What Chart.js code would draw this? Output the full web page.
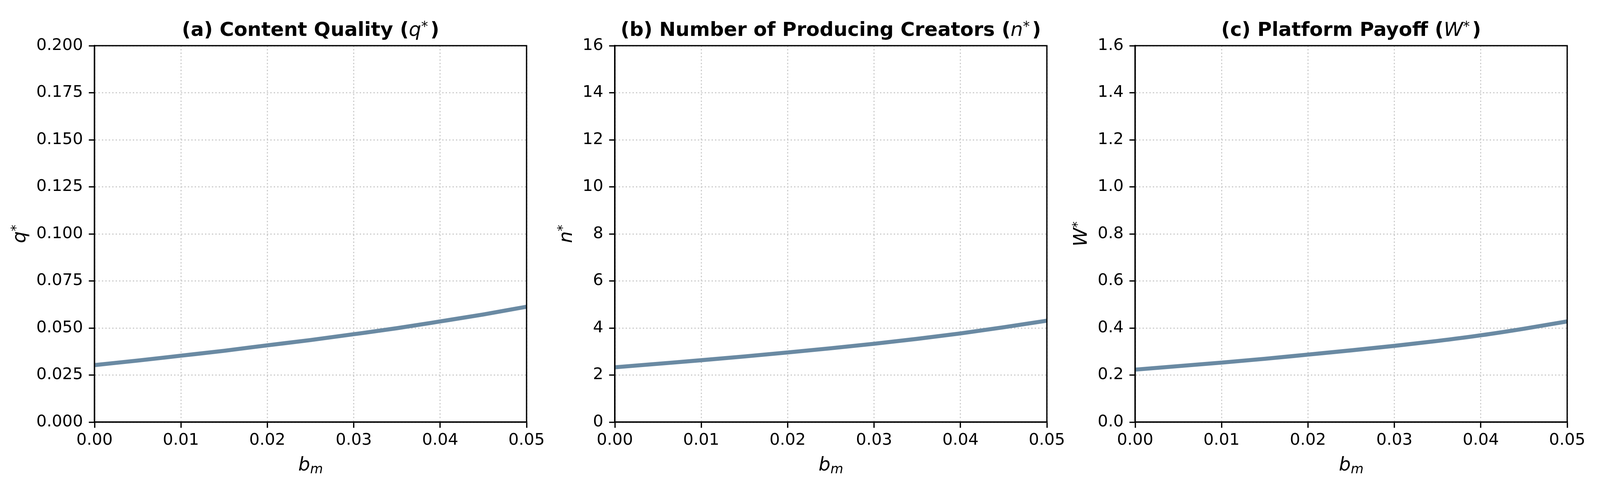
<!DOCTYPE html>
<html>
<head>
<meta charset="utf-8">
<script src="https://cdn.jsdelivr.net/npm/chart.js@4.4.1/dist/chart.umd.min.js"></script>
<style>
  html, body { margin: 0; padding: 0; background: #fff; overflow: hidden; }
  #wrap { position: relative; background: #fff; overflow: hidden; }
  #wrap canvas { position: absolute; top: 0; }
</style>
</head>
<body>
<div id="wrap">
  <canvas id="chartA"></canvas>
  <canvas id="chartB"></canvas>
  <canvas id="chartC"></canvas>
</div>
<script>
// ===== data =====
const bm       = [0, 0.005, 0.01, 0.015, 0.02, 0.025, 0.03, 0.035, 0.04, 0.045, 0.05];
const quality  = [0.0303, 0.0327, 0.0353, 0.0379, 0.0408, 0.0436, 0.0467, 0.0499, 0.0535, 0.0572, 0.0613];
const creators = [2.33, 2.48, 2.63, 2.79, 2.96, 3.14, 3.33, 3.54, 3.77, 4.03, 4.31];
const payoff   = [0.223, 0.238, 0.253, 0.269, 0.287, 0.305, 0.324, 0.345, 0.369, 0.397, 0.428];

const xTicks = [0, 0.01, 0.02, 0.03, 0.04, 0.05];
const qTicks = [0, 0.025, 0.05, 0.075, 0.1, 0.125, 0.15, 0.175, 0.2];
const nTicks = [0, 2, 4, 6, 8, 10, 12, 14, 16];
const wTicks = [0, 0.2, 0.4, 0.6, 0.8, 1.0, 1.2, 1.4, 1.6];

// ===== layout (designed for 4500x1260, stretched to the real viewport) =====
const VW = window.innerWidth || 4500;
const VH = window.innerHeight || 1260;
const sx = VW / 4500, sy = VH / 1260;
const AXIS_LEFT = [266, 1729, 3193];
const PLOT_W = 1215, PLOT_TOP = 117, PLOT_BOTTOM = 1081, XLABEL_Y = 1205;
const RIGHT_PAD = 79;

// ===== look =====
const FONT = '"DejaVu Sans", sans-serif';
const LINE = '#6a8aa3';
const TICK_PX = 41.7;
const SPINE = 3.3;

const wrap = document.getElementById('wrap');
wrap.style.width = VW + 'px';
wrap.style.height = VH + 'px';

// draw text made of bold / italic / sub / sup pieces, centred on x
function drawRich(ctx, segs, x, y, base) {
  let total = 0;
  const parts = segs.map(s => {
    const size = base * (s.scale || 1);
    const font = (s.style || '') + ' ' + size + 'px ' + FONT;
    ctx.font = font;
    const w = ctx.measureText(s.t).width;
    total += w + (s.gap || 0) * base;
    return { s, font, w };
  });
  let cx = x - total / 2;
  ctx.textAlign = 'left';
  ctx.textBaseline = 'alphabetic';
  parts.forEach(p => {
    ctx.font = p.font;
    ctx.fillText(p.s.t, cx, y + (p.s.dy || 0) * base);
    cx += p.w + (p.s.gap || 0) * base;
  });
}

// frame + title + axis labels
const panelText = {
  id: 'panelText',
  afterDraw(chart, args, opts) {
    const { ctx, chartArea: a } = chart;
    ctx.save();
    ctx.strokeStyle = '#000';
    ctx.lineWidth = SPINE;
    ctx.strokeRect(a.left, a.top, a.right - a.left, a.bottom - a.top);

    ctx.fillStyle = '#000';
    const cx = (a.left + a.right) / 2;
    drawRich(ctx, opts.title, cx, a.top - 25, 50);
    drawRich(ctx, opts.xlabel, cx, XLABEL_Y * sy, 48);

    // y label sits left of the widest tick label
    const ys = chart.scales.y;
    ctx.font = TICK_PX + 'px ' + FONT;
    const lw = Math.max(...ys.ticks.map(t => ctx.measureText(String(t.label)).width));
    const bx = a.left - 14.6 - 15 - lw - 16.7 - 11;
    ctx.translate(bx, (a.top + a.bottom) / 2);
    ctx.rotate(-Math.PI / 2);
    drawRich(ctx, opts.ylabel, 0, 0, 48);
    ctx.restore();
  }
};

function axisStyle() {
  return {
    grid: { color: '#cbcbcb', lineWidth: 3, tickColor: '#000', tickWidth: SPINE, tickLength: 14.6, drawTicks: true },
    border: { display: true, color: '#000', width: SPINE, dash: [3.3, 5.5] }
  };
}

function makeChart(id, idx, values, yTicks, yMax, yFmt, labels) {
  const canvas = document.getElementById(id);
  const yw = Math.round(AXIS_LEFT[0] * sx);
  const left = Math.round(AXIS_LEFT[idx] * sx) - yw;
  const cw = Math.round(yw + PLOT_W * sx + RIGHT_PAD);
  canvas.width = cw; canvas.height = VH;
  canvas.style.width = cw + 'px'; canvas.style.height = VH + 'px';
  canvas.style.left = left + 'px';

  const xs = axisStyle();
  const ysx = axisStyle();
  return new Chart(canvas, {
    type: 'line',
    data: {
      datasets: [{
        data: bm.map((x, i) => ({ x, y: values[i] })),
        borderColor: LINE,
        borderWidth: 10.4,
        pointRadius: 0,
        cubicInterpolationMode: 'monotone',
        fill: false,
        clip: 0
      }]
    },
    options: {
      responsive: false,
      animation: false,
      devicePixelRatio: 1,
      layout: { padding: { top: Math.round(PLOT_TOP * sy), right: RIGHT_PAD, bottom: 0, left: 0 } },
      plugins: {
        legend: { display: false },
        tooltip: { enabled: false },
        panelText: labels
      },
      scales: {
        x: {
          type: 'linear', min: 0, max: 0.05,
          afterBuildTicks: s => { s.ticks = xTicks.map(v => ({ value: v })); },
          afterFit: s => { s.height = Math.round((1260 - PLOT_BOTTOM) * sy); },
          ticks: {
            color: '#000', padding: 8, maxRotation: 0, autoSkip: false,
            font: { family: FONT, size: TICK_PX },
            callback: v => Number(v).toFixed(2)
          },
          grid: xs.grid, border: xs.border
        },
        y: {
          type: 'linear', min: 0, max: yMax,
          afterBuildTicks: s => { s.ticks = yTicks.map(v => ({ value: v })); },
          afterFit: s => { s.width = yw; },
          ticks: {
            color: '#000', padding: 15, autoSkip: false,
            font: { family: FONT, size: TICK_PX },
            callback: yFmt
          },
          grid: ysx.grid, border: ysx.border
        }
      }
    },
    plugins: [panelText]
  });
}

const sup = { t: '*', scale: 0.7, dy: -0.27 };
const xlab = [{ t: 'b', style: 'italic' }, { t: 'm', style: 'italic', scale: 0.7, dy: 0.15 }];

makeChart('chartA', 0, quality, qTicks, 0.2, v => Number(v).toFixed(3), {
  title: [{ t: '(a) Content Quality (', style: 'bold' }, { t: 'q', style: 'italic' }, Object.assign({ gap: 0.12 }, sup), { t: ')', style: 'bold' }],
  xlabel: xlab,
  ylabel: [{ t: 'q', style: 'italic' }, sup]
});

makeChart('chartB', 1, creators, nTicks, 16, v => String(v), {
  title: [{ t: '(b) Number of Producing Creators (', style: 'bold' }, { t: 'n', style: 'italic' }, Object.assign({ gap: 0.12 }, sup), { t: ')', style: 'bold' }],
  xlabel: xlab,
  ylabel: [{ t: 'n', style: 'italic' }, sup]
});

makeChart('chartC', 2, payoff, wTicks, 1.6, v => Number(v).toFixed(1), {
  title: [{ t: '(c) Platform Payoff (', style: 'bold' }, { t: 'W', style: 'italic' }, Object.assign({ gap: 0.12 }, sup), { t: ')', style: 'bold' }],
  xlabel: xlab,
  ylabel: [{ t: 'W', style: 'italic' }, sup]
});
</script>
</body>
</html>
